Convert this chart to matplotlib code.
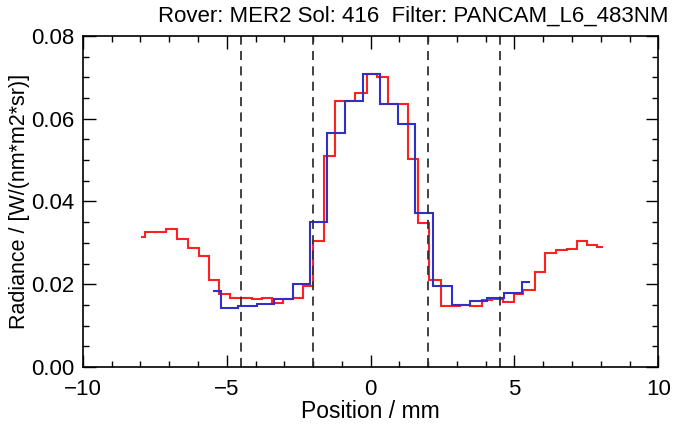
import numpy as np
import matplotlib
matplotlib.use("Agg")
import matplotlib.pyplot as plt
from matplotlib.ticker import MultipleLocator, FormatStrFormatter

# Red profile: bin edges (mm) and radiance per bin
red_edges = [-7.99, -7.84, -7.47, -7.11, -6.72, -6.34, -5.97, -5.61, -5.26, -4.89,
             -4.51, -4.13, -3.78, -3.44, -3.05, -2.70, -2.36, -1.99, -1.62, -1.23,
             -0.88, -0.54, -0.13, 0.24, 0.62, 0.96, 1.31, 1.66, 2.03, 2.44,
             2.78, 3.11, 3.46, 3.87, 4.22, 4.60, 4.97, 5.31, 5.72, 6.07,
             6.45, 6.82, 7.17, 7.52, 7.87, 8.08]
red_vals = [0.0314, 0.0326, 0.0327, 0.0334, 0.0310, 0.0288, 0.0268, 0.0210, 0.0176, 0.0167,
            0.0166, 0.0165, 0.0166, 0.0155, 0.0165, 0.0166, 0.0196, 0.0305, 0.0511, 0.0643,
            0.0644, 0.0663, 0.0708, 0.0701, 0.0636, 0.0635, 0.0503, 0.0348, 0.0211, 0.0148,
            0.0147, 0.0151, 0.0148, 0.0161, 0.0164, 0.0157, 0.0176, 0.0186, 0.0230, 0.0275,
            0.0282, 0.0286, 0.0304, 0.0294, 0.0290]

# Blue profile
blue_edges = [-5.47, -5.21, -4.60, -3.96, -3.36, -2.71, -2.10, -1.52, -0.89, -0.25,
              0.33, 0.97, 1.55, 2.18, 2.82, 3.46, 4.04, 4.64, 5.26, 5.55]
blue_vals = [0.0183, 0.0143, 0.0148, 0.0152, 0.0165, 0.0200, 0.0350, 0.0565, 0.0643,
             0.0709, 0.0635, 0.0588, 0.0372, 0.0195, 0.0150, 0.0159, 0.0166, 0.0179, 0.0206]

# boundary markers (mm)
bounds = [-4.5, -2.0, 2.0, 4.5]

title = "Rover: MER2 Sol: 416  Filter: PANCAM_L6_483NM"

plt.rcParams['font.family'] = ['Liberation Sans', 'DejaVu Sans']

fig = plt.figure(figsize=(6.85, 4.26), dpi=100)
ax = fig.add_axes([0.121, 0.1385, 0.840, 0.777])

ax.stairs(red_vals, red_edges, color='#ff2020', lw=1.5, baseline=None)
ax.stairs(blue_vals, blue_edges, color='#3030c8', lw=1.5, baseline=None)

for b in bounds:
    ax.axvline(b, color='#333333', lw=1.3, ls=(0, (5, 3.5)))

ax.set_xlim(-10, 10)
ax.set_ylim(0, 0.08)
ax.xaxis.set_major_locator(MultipleLocator(5))
ax.xaxis.set_minor_locator(MultipleLocator(1))
ax.yaxis.set_major_locator(MultipleLocator(0.02))
ax.yaxis.set_minor_locator(MultipleLocator(0.005))
ax.yaxis.set_major_formatter(FormatStrFormatter('%.2f'))
ax.tick_params(which='both', direction='in', top=True, right=True, labelsize=16)
ax.tick_params(axis='x', which='major', pad=9)
ax.tick_params(axis='y', which='major', pad=6)
ax.tick_params(which='major', length=9, width=1)
ax.tick_params(which='minor', length=4.5, width=1)
for s in ax.spines.values():
    s.set_linewidth(1.2)

ax.set_xlabel('Position / mm', fontsize=16.5, labelpad=0)
ax.set_ylabel('Radiance / [W/(nm*m2*sr)]', fontsize=15.5, labelpad=1)
fig.text(0.604, 0.963, title, ha='center', va='center', fontsize=16)

fig.savefig('out.png', dpi=100)
